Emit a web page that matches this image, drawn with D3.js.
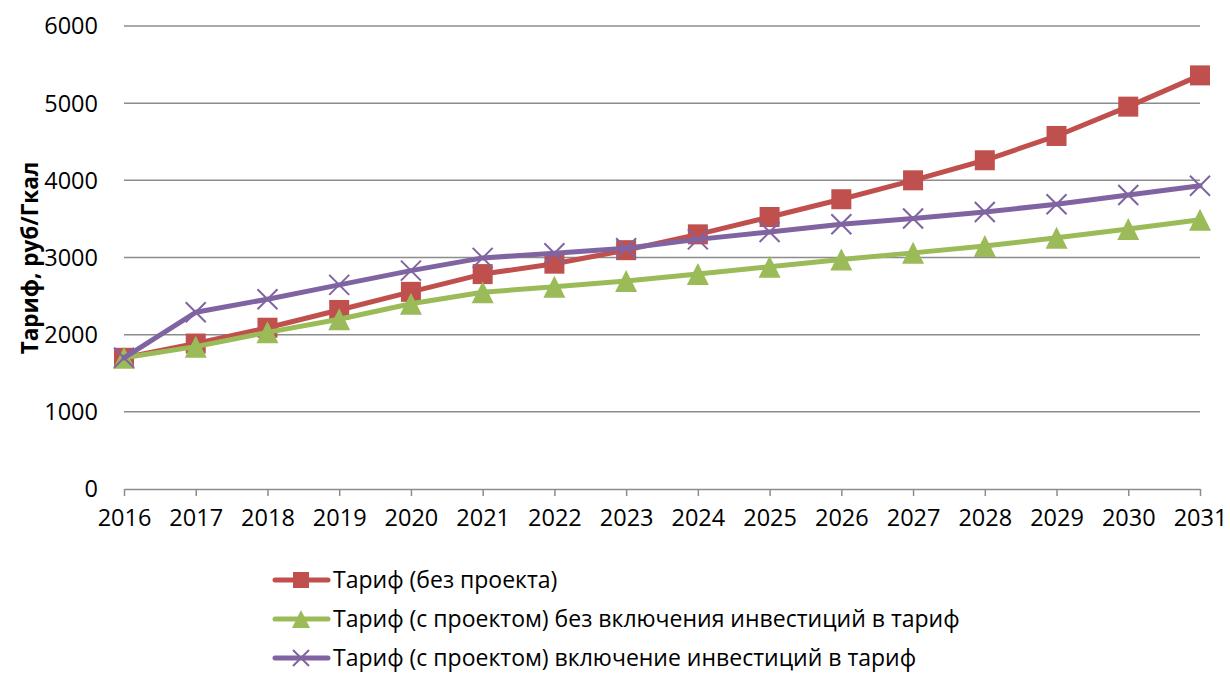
<!DOCTYPE html>
<html>
<head>
<meta charset="utf-8">
<script src="https://cdn.jsdelivr.net/npm/d3@7"></script>
<style>
  body { margin: 0; background: #fff; }
  svg { display: block; font-family: "Open Sans", sans-serif; }
</style>
</head>
<body>
<script>
// data
var years = [2016, 2017, 2018, 2019, 2020, 2021, 2022, 2023, 2024, 2025, 2026, 2027, 2028, 2029, 2030, 2031];
var noProject = [1700, 1885, 2090, 2320, 2555, 2785, 2920, 3095, 3300, 3525, 3755, 4000, 4260, 4575, 4955, 5360];
var withProjectNoInvest = [1700, 1845, 2030, 2200, 2400, 2550, 2620, 2695, 2785, 2880, 2975, 3060, 3150, 3255, 3370, 3490];
var withProjectInvest = [1700, 2290, 2460, 2645, 2830, 2995, 3055, 3120, 3235, 3330, 3430, 3505, 3590, 3690, 3810, 3930];
var seriesNames = [
    "Тариф (без проекта)",
    "Тариф (с проектом) без включения инвестиций в тариф",
    "Тариф (с проектом) включение инвестиций в тариф"
];
var yTicks = [0, 1000, 2000, 3000, 4000, 5000, 6000];

var width = 1230, height = 689;
var margins = {left: 124, right: 30, top: 26, bottom: 200};

var series = [
    {name: seriesNames[0], values: noProject, color: "#C0504D", marker: "square"},
    {name: seriesNames[1], values: withProjectNoInvest, color: "#9BBB59", marker: "triangle"},
    {name: seriesNames[2], values: withProjectInvest, color: "#8064A2", marker: "cross"}
];

var svg = d3.select("body").append("svg")
    .attr("width", width)
    .attr("height", height);

var x = d3.scalePoint().domain(years).range([margins.left, width - margins.right]);
var y = d3.scaleLinear().domain([0, 6000]).range([height - margins.bottom, margins.top]);

// gridlines
svg.append("g")
    .selectAll("line")
    .data(yTicks.filter(function(d) { return d > 0; }))
    .join("line")
    .attr("x1", x.range()[0])
    .attr("x2", x.range()[1])
    .attr("y1", function(d) { return y(d); })
    .attr("y2", function(d) { return y(d); })
    .attr("stroke", "#8c8c8c")
    .attr("stroke-width", 1.5);

// y tick labels (no axis line)
svg.append("g")
    .selectAll("text")
    .data(yTicks)
    .join("text")
    .attr("x", 98)
    .attr("y", function(d) { return y(d); })
    .attr("dy", "0.36em")
    .attr("text-anchor", "end")
    .attr("font-size", 23.5)
    .attr("fill", "#000")
    .text(function(d) { return d; });

// x axis
var xAxis = svg.append("g")
    .attr("transform", "translate(0," + y(0) + ")")
    .call(d3.axisBottom(x).tickSizeInner(7).tickSizeOuter(0).tickPadding(13));
xAxis.select(".domain").attr("stroke", "#8c8c8c").attr("stroke-width", 1.5);
xAxis.selectAll(".tick line").attr("stroke", "#8c8c8c").attr("stroke-width", 1.5);
xAxis.selectAll(".tick text")
    .attr("font-size", 23.5)
    .attr("font-family", "'Open Sans', sans-serif")
    .attr("fill", "#000");

// y axis title
svg.append("text")
    .attr("transform", "translate(38," + 258 + ") rotate(-90)")
    .attr("text-anchor", "middle")
    .attr("font-size", 22.5)
    .attr("font-weight", "bold")
    .text("Тариф, руб/Гкал");

function drawMarker(g, type, color, size) {
    var h = size / 2;
    if(type === "square") {
        g.append("rect")
            .attr("x", -h).attr("y", -h)
            .attr("width", size).attr("height", size)
            .attr("fill", color);
    } else if(type === "triangle") {
        g.append("path")
            .attr("d", "M0," + (-h - 1) + "L" + (h + 1) + "," + (h + 1) + "L" + (-h - 1) + "," + (h + 1) + "Z")
            .attr("fill", color);
    } else {
        g.append("path")
            .attr("d", "M" + (-h) + "," + (-h) + "L" + h + "," + h + "M" + h + "," + (-h) + "L" + (-h) + "," + h)
            .attr("stroke", color)
            .attr("stroke-width", 2);
    }
}

var line = d3.line()
    .x(function(d, i) { return x(years[i]); })
    .y(function(d) { return y(d); });

// lines first, then markers on top for each series in order
series.forEach(function(s) {
    var g = svg.append("g");
    g.append("path")
        .attr("d", line(s.values))
        .attr("fill", "none")
        .attr("stroke", s.color)
        .attr("stroke-width", 5)
        .attr("stroke-linejoin", "round")
        .attr("stroke-linecap", "round");
    s.values.forEach(function(v, i) {
        var m = g.append("g").attr("transform", "translate(" + x(years[i]) + "," + y(v) + ")");
        drawMarker(m, s.marker, s.color, 20);
    });
});

// legend
var legendY = [580, 619, 658];
series.forEach(function(s, i) {
    var g = svg.append("g").attr("transform", "translate(0," + legendY[i] + ")");
    g.append("line")
        .attr("x1", 275).attr("x2", 328)
        .attr("stroke", s.color)
        .attr("stroke-width", 5)
        .attr("stroke-linecap", "round");
    var m = g.append("g").attr("transform", "translate(301,0)");
    drawMarker(m, s.marker, s.color, 16);
    g.append("text")
        .attr("x", 333)
        .attr("dy", "0.36em")
        .attr("font-size", 23)
        .text(s.name);
});
</script>
</body>
</html>
